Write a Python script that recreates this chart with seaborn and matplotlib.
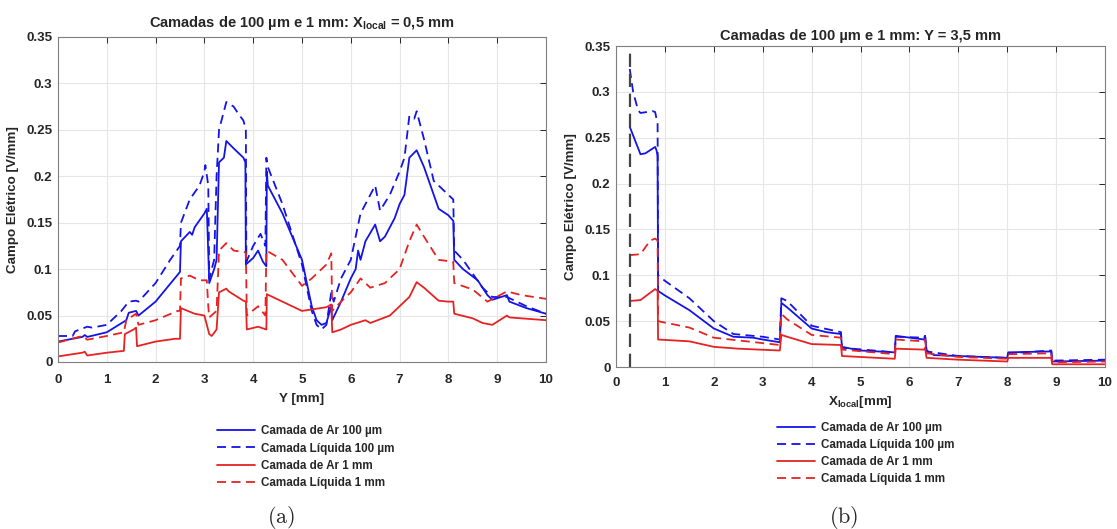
import numpy as np
import pandas as pd
import matplotlib
matplotlib.use("Agg")
import matplotlib.pyplot as plt
import seaborn as sns

# ---------------- data: panel (a) ----------------
a_ar100_x = [0, 0.5, 0.55, 0.6, 1.0, 1.4, 1.45, 1.6, 1.65, 2.0, 2.5, 2.52, 2.7, 2.75, 2.8, 3.0, 3.05, 3.1, 3.2, 3.25, 3.3, 3.4, 3.45, 3.6, 3.8, 3.84, 3.85, 4.0, 4.1, 4.2, 4.27, 4.28, 4.3, 4.6, 5.0, 5.2, 5.3, 5.4, 5.5, 5.6, 5.62, 5.8, 6.0, 6.1, 6.15, 6.2, 6.3, 6.5, 6.6, 6.7, 6.9, 7.0, 7.1, 7.2, 7.35, 7.5, 7.8, 8.0, 8.1, 8.12, 8.3, 8.6, 8.8, 8.9, 9.2, 9.25, 9.6, 10]
a_ar100_y = [0.022, 0.027, 0.029, 0.027, 0.032, 0.045, 0.053, 0.055, 0.050, 0.065, 0.097, 0.130, 0.140, 0.137, 0.145, 0.160, 0.165, 0.085, 0.100, 0.110, 0.215, 0.220, 0.238, 0.230, 0.220, 0.215, 0.105, 0.112, 0.120, 0.108, 0.103, 0.205, 0.190, 0.160, 0.110, 0.060, 0.045, 0.040, 0.042, 0.060, 0.045, 0.065, 0.090, 0.100, 0.120, 0.110, 0.130, 0.148, 0.130, 0.135, 0.155, 0.170, 0.180, 0.220, 0.228, 0.210, 0.165, 0.158, 0.152, 0.110, 0.100, 0.088, 0.072, 0.067, 0.072, 0.065, 0.058, 0.052]

a_liq100_x = [0, 0.3, 0.35, 0.6, 0.7, 1.0, 1.3, 1.45, 1.6, 1.65, 2.0, 2.3, 2.5, 2.52, 2.7, 2.9, 3.0, 3.02, 3.08, 3.1, 3.2, 3.25, 3.3, 3.35, 3.45, 3.6, 3.7, 3.8, 3.85, 3.86, 4.0, 4.15, 4.25, 4.27, 4.3, 4.6, 5.0, 5.2, 5.3, 5.4, 5.5, 5.6, 5.65, 5.8, 6.0, 6.2, 6.4, 6.5, 6.6, 6.8, 7.0, 7.1, 7.2, 7.3, 7.35, 7.5, 7.7, 8.0, 8.1, 8.12, 8.3, 8.7, 8.9, 9.2, 9.6, 10]
a_liq100_y = [0.028, 0.028, 0.033, 0.038, 0.037, 0.040, 0.055, 0.065, 0.066, 0.065, 0.085, 0.110, 0.125, 0.150, 0.175, 0.190, 0.205, 0.212, 0.190, 0.090, 0.110, 0.200, 0.250, 0.260, 0.280, 0.275, 0.267, 0.260, 0.250, 0.108, 0.125, 0.138, 0.125, 0.220, 0.210, 0.170, 0.105, 0.055, 0.040, 0.035, 0.040, 0.075, 0.065, 0.090, 0.110, 0.160, 0.180, 0.190, 0.163, 0.180, 0.205, 0.220, 0.265, 0.262, 0.270, 0.240, 0.195, 0.180, 0.175, 0.120, 0.110, 0.080, 0.070, 0.070, 0.060, 0.052]

a_ar1_x = [0, 0.5, 0.55, 0.6, 1.0, 1.35, 1.37, 1.55, 1.6, 1.62, 2.0, 2.4, 2.5, 2.52, 2.8, 3.0, 3.1, 3.15, 3.25, 3.3, 3.45, 3.5, 3.8, 3.85, 3.87, 4.1, 4.27, 4.28, 4.6, 5.0, 5.5, 5.6, 5.62, 5.8, 6.0, 6.3, 6.4, 6.8, 7.0, 7.2, 7.35, 7.5, 7.8, 8.0, 8.1, 8.12, 8.5, 8.7, 8.9, 9.2, 9.25, 9.5, 10]
a_ar1_y = [0.006, 0.010, 0.011, 0.007, 0.010, 0.012, 0.030, 0.035, 0.037, 0.017, 0.022, 0.025, 0.025, 0.058, 0.052, 0.050, 0.030, 0.028, 0.035, 0.075, 0.079, 0.076, 0.066, 0.065, 0.035, 0.038, 0.035, 0.073, 0.065, 0.055, 0.059, 0.062, 0.032, 0.035, 0.040, 0.045, 0.042, 0.050, 0.060, 0.070, 0.086, 0.080, 0.066, 0.065, 0.065, 0.052, 0.047, 0.042, 0.040, 0.050, 0.048, 0.047, 0.045]

a_liq1_x = [0, 0.5, 0.6, 1.0, 1.35, 1.4, 1.6, 1.65, 2.0, 2.45, 2.5, 2.52, 2.7, 2.9, 3.05, 3.08, 3.1, 3.25, 3.3, 3.45, 3.6, 3.85, 3.87, 4.1, 4.25, 4.27, 4.6, 5.0, 5.2, 5.5, 5.6, 5.62, 5.8, 6.0, 6.2, 6.4, 6.7, 7.0, 7.2, 7.35, 7.5, 7.8, 8.1, 8.12, 8.5, 8.8, 9.2, 9.5, 10]
a_liq1_y = [0.021, 0.028, 0.024, 0.028, 0.032, 0.045, 0.052, 0.040, 0.045, 0.055, 0.055, 0.090, 0.093, 0.088, 0.088, 0.060, 0.048, 0.055, 0.120, 0.128, 0.120, 0.118, 0.050, 0.060, 0.050, 0.120, 0.110, 0.082, 0.090, 0.105, 0.117, 0.055, 0.065, 0.075, 0.090, 0.080, 0.085, 0.100, 0.130, 0.148, 0.135, 0.110, 0.108, 0.085, 0.078, 0.065, 0.076, 0.072, 0.068]

# ---------------- data: panel (b) ----------------
b_ar100_x = [0.28, 0.5, 0.6, 0.8, 0.83, 0.85, 0.86, 1.0, 1.5, 2.0, 2.4, 2.8, 3.0, 3.35, 3.38, 3.5, 4.0, 4.3, 4.6, 4.62, 5.0, 5.7, 5.72, 6.3, 6.32, 6.35, 6.5, 7.0, 8.0, 8.02, 8.9, 8.92, 10]
b_ar100_y = [0.262, 0.232, 0.233, 0.240, 0.236, 0.230, 0.083, 0.078, 0.062, 0.042, 0.033, 0.032, 0.030, 0.027, 0.070, 0.065, 0.042, 0.038, 0.036, 0.022, 0.018, 0.016, 0.034, 0.030, 0.034, 0.018, 0.013, 0.012, 0.010, 0.016, 0.017, 0.006, 0.007]

b_liq100_x = [0.28, 0.35, 0.45, 0.5, 0.75, 0.8, 0.85, 0.86, 1.0, 1.5, 2.0, 2.4, 3.0, 3.35, 3.38, 3.5, 4.0, 4.6, 4.62, 5.7, 5.72, 6.3, 6.32, 6.35, 7.0, 8.0, 8.02, 8.9, 8.92, 10]
b_liq100_y = [0.325, 0.300, 0.280, 0.277, 0.279, 0.278, 0.265, 0.100, 0.094, 0.075, 0.050, 0.036, 0.033, 0.030, 0.075, 0.072, 0.045, 0.038, 0.021, 0.016, 0.033, 0.032, 0.034, 0.017, 0.012, 0.010, 0.015, 0.018, 0.007, 0.008]

b_ar1_x = [0.28, 0.5, 0.8, 0.85, 0.86, 1.5, 2.0, 2.5, 3.35, 3.38, 3.5, 4.0, 4.6, 4.62, 5.7, 5.72, 6.3, 6.32, 6.35, 7.0, 8.0, 8.02, 8.9, 8.92, 10]
b_ar1_y = [0.072, 0.073, 0.085, 0.083, 0.030, 0.028, 0.022, 0.020, 0.018, 0.035, 0.033, 0.025, 0.024, 0.012, 0.009, 0.020, 0.019, 0.021, 0.010, 0.008, 0.006, 0.010, 0.010, 0.003, 0.003]

b_liq1_x = [0.28, 0.5, 0.7, 0.8, 0.85, 0.86, 1.5, 2.0, 3.35, 3.38, 3.5, 4.0, 4.6, 4.62, 5.7, 5.72, 6.3, 6.32, 6.35, 7.0, 8.0, 8.02, 8.9, 8.92, 10]
b_liq1_y = [0.122, 0.123, 0.138, 0.140, 0.138, 0.050, 0.043, 0.032, 0.024, 0.058, 0.052, 0.035, 0.032, 0.019, 0.014, 0.030, 0.028, 0.030, 0.015, 0.011, 0.009, 0.014, 0.015, 0.005, 0.006]

b_marker_x = 0.28

labels = ["Camada de Ar 100 µm", "Camada Líquida 100 µm", "Camada de Ar 1 mm", "Camada Líquida 1 mm"]
x_ticks = list(range(0, 11))
y_ticks = [0, 0.05, 0.1, 0.15, 0.2, 0.25, 0.3, 0.35]
y_tick_labels = ["0", "0.05", "0.1", "0.15", "0.2", "0.25", "0.3", "0.35"]

# ---------------- style ----------------
sns.set_theme(style="white")
plt.rcParams["font.family"] = ["Liberation Sans", "DejaVu Sans"]
plt.rcParams["font.weight"] = "bold"
plt.rcParams["mathtext.fontset"] = "custom"
plt.rcParams["mathtext.rm"] = "Liberation Sans:bold"
plt.rcParams["mathtext.bf"] = "Liberation Sans:bold"
plt.rcParams["mathtext.it"] = "Liberation Sans:bold"

BLUE = "#1414E6"
RED = "#E62222"
styles = [(BLUE, "-"), (BLUE, (0, (5, 3))), (RED, "-"), (RED, (0, (5, 3)))]

fig = plt.figure(figsize=(11.17, 5.29), dpi=100)
axA = fig.add_axes([0.0519, 0.3157, 0.4369, 0.6144])
axB = fig.add_axes([0.5515, 0.3062, 0.4378, 0.6068])

panels = [
    (axA, [(a_ar100_x, a_ar100_y), (a_liq100_x, a_liq100_y), (a_ar1_x, a_ar1_y), (a_liq1_x, a_liq1_y)], 8.5, 5),
    (axB, [(b_ar100_x, b_ar100_y), (b_liq100_x, b_liq100_y), (b_ar1_x, b_ar1_y), (b_liq1_x, b_liq1_y)], 7.5, 3),
]

FS = 9.6
handles_all = []
for ax, series, xpad, lpad in panels:
    hs = []
    for (xs, ys), (c, ls), lab in zip(series, styles, labels):
        df = pd.DataFrame({"x": xs, "y": ys})
        sns.lineplot(data=df, x="x", y="y", ax=ax, estimator=None, sort=False,
                     color=c, linewidth=1.3, label=lab)
        ln = ax.get_lines()[-1]
        ln.set_linestyle(ls)
        hs.append(ln)
    handles_all.append(hs)
    if ax.get_legend() is not None:
        ax.get_legend().remove()
    ax.set_xlim(0, 10)
    ax.set_ylim(0, 0.35)
    ax.set_xticks(x_ticks)
    ax.set_xticklabels([str(t) for t in x_ticks])
    ax.set_yticks(y_ticks)
    ax.set_yticklabels(y_tick_labels)
    ax.grid(True, color="#e6e6e6", linewidth=0.8)
    ax.tick_params(direction="in", length=4, width=0.7, top=True, right=True,
                   labelsize=FS, colors="#262626")
    ax.tick_params(axis="x", pad=xpad)
    ax.tick_params(axis="y", pad=4)
    for lab in ax.get_xticklabels() + ax.get_yticklabels():
        lab.set_fontweight("bold")
    for sp in ax.spines.values():
        sp.set_color("#7f7f7f")
        sp.set_linewidth(0.8)
    ax.set_ylabel("Campo Elétrico [V/mm]", fontsize=FS, fontweight="bold", color="#262626", labelpad=5)
    ax.xaxis.labelpad = lpad

axB.axvline(b_marker_x, color="#444444", linestyle=(0, (6, 3)), linewidth=1.6)

axA.set_title(r"Camadas de 100 µm e 1 mm: $\mathbf{X_{local}}$ = 0,5 mm", fontsize=10.5, fontweight="bold", pad=7)
axB.set_title("Camadas de 100 µm e 1 mm: Y = 3,5 mm", fontsize=10.5, fontweight="bold", pad=4)
axA.set_xlabel("Y [mm]", fontsize=FS, fontweight="bold", color="#262626", labelpad=5)
axB.set_xlabel(r"$\mathbf{X_{local}}$[mm]", fontsize=FS, fontweight="bold", color="#262626", labelpad=3)

leg_kw = dict(loc="upper left", frameon=False, fontsize=8.4, handlelength=3.3,
              labelspacing=0.45, handletextpad=0.5, borderpad=0)
legA = fig.legend(handles=handles_all[0], labels=labels, bbox_to_anchor=(0.189, 0.207), **leg_kw)
legB = fig.legend(handles=handles_all[1], labels=labels, bbox_to_anchor=(0.690, 0.214), **leg_kw)
for lg in (legA, legB):
    for t in lg.get_texts():
        t.set_fontweight("bold")

fig.text(0.2515, 0.012, r"$\mathrm{(a)}$", fontsize=16, ha="center", math_fontfamily="cm")
fig.text(0.7555, 0.012, r"$\mathrm{(b)}$", fontsize=16, ha="center", math_fontfamily="cm")

fig.savefig("out.png", dpi=100)
